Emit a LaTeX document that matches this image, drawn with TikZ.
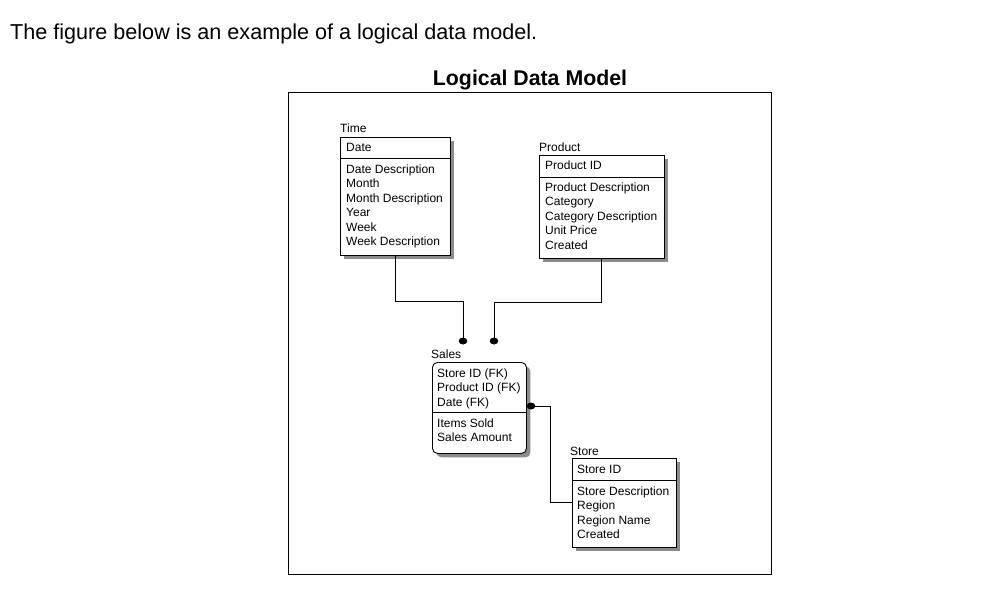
\documentclass[tikz,border=0pt]{standalone}
\usepackage{fontspec}
\setmainfont{Liberation Sans}
\usetikzlibrary{shadows}
\tikzset{
  entity/.style={draw=black, line width=0.9pt, fill=white, anchor=north west, inner sep=0pt,
    drop shadow={shadow xshift=4pt, shadow yshift=-4pt, fill=black!45, opacity=1}},
  etxt/.style={anchor=base west, inner sep=0pt, font=\fontsize{12}{13}\selectfont},
  conn/.style={draw=black, line width=1pt},
  dot/.style={fill=black}
}
\begin{document}
\begin{tikzpicture}[x=1pt,y=-1pt]
\useasboundingbox (0,0) rectangle (1001,591);
\node[anchor=base west, inner sep=0pt, font=\fontsize{21.6}{24}\selectfont] (intro) at (10,40) {The figure below is an example of a logical data model.};
\node[anchor=base, inner sep=0pt, font=\fontsize{21.3}{24}\selectfont\bfseries] (title) at (530,86) {Logical Data Model};
\node[draw=black, line width=1pt, anchor=north west, inner sep=0pt, minimum width=483pt, minimum height=482pt] (frame) at (288,92) {};

% Time
\node[entity, minimum width=110pt, minimum height=118pt] (time) at (340,137) {};
\draw[line width=0.9pt] (340,158) -- (450,158);
\node[etxt] (tl) at (340,133) {Time};
\node[etxt] (t0) at (346,151) {Date};
\node[etxt] (t1) at (346,173) {Date Description};
\node[etxt] (t2) at (346,187.5) {Month};
\node[etxt] (t3) at (346,202) {Month Description};
\node[etxt] (t4) at (346,216.5) {Year};
\node[etxt] (t5) at (346,231) {Week};
\node[etxt] (t6) at (346,245.5) {Week Description};

% Product
\node[entity, minimum width=125pt, minimum height=103pt] (product) at (539,155) {};
\draw[line width=0.9pt] (539,177) -- (664,177);
\node[etxt] (pl) at (539,151) {Product};
\node[etxt] (p0) at (545,169) {Product ID};
\node[etxt] (p1) at (545,191) {Product Description};
\node[etxt] (p2) at (545,205.5) {Category};
\node[etxt] (p3) at (545,220) {Category Description};
\node[etxt] (p4) at (545,234.5) {Unit Price};
\node[etxt] (p5) at (545,249) {Created};

% Sales
\node[entity, rounded corners=5pt, minimum width=94pt, minimum height=91pt] (sales) at (432,362) {};
\draw[line width=0.9pt] (432,412) -- (526,412);
\node[etxt] (sl) at (431,358) {Sales};
\node[etxt] (s0) at (437,377) {Store ID (FK)};
\node[etxt] (s1) at (437,391.5) {Product ID (FK)};
\node[etxt] (s2) at (437,406) {Date (FK)};
\node[etxt] (s3) at (437,427) {Items Sold};
\node[etxt] (s4) at (437,441.5) {Sales Amount};

% Store
\node[entity, minimum width=104pt, minimum height=89pt] (store) at (572,458) {};
\draw[line width=0.9pt] (572,480) -- (676,480);
\node[etxt] (rl) at (570,455) {Store};
\node[etxt] (r0) at (577,473) {Store ID};
\node[etxt] (r1) at (577,495) {Store Description};
\node[etxt] (r2) at (577,509.5) {Region};
\node[etxt] (r3) at (577,524) {Region Name};
\node[etxt] (r4) at (577,538.5) {Created};

% connectors
\coordinate (tdot) at (463,341);
\coordinate (pdot) at (494,341);
\coordinate (sdot) at (531,406);
\draw[conn] (time.south) -- ++(0,46) -| (tdot);
\draw[conn] (product.south) -- ++(0,44) -| (pdot);
\draw[conn] (store.west) -| (550,406) -- (sdot);
\fill[dot] (tdot) ellipse (4.3pt and 3.5pt);
\fill[dot] (pdot) ellipse (4.3pt and 3.5pt);
\fill[dot] (sdot) ellipse (4.3pt and 3.5pt);
\end{tikzpicture}
\end{document}
